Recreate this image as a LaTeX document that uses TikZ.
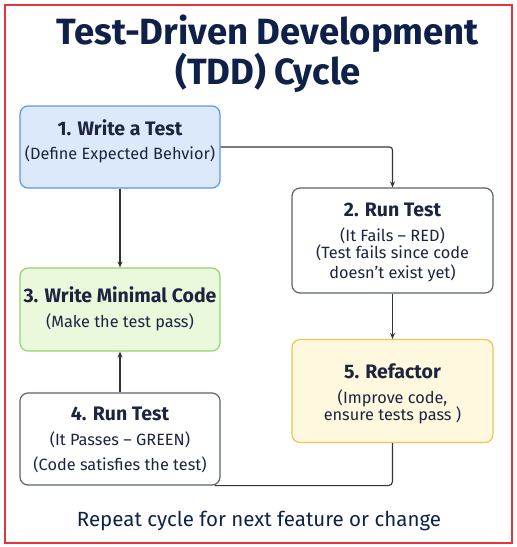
\documentclass[tikz,border=0pt]{standalone}
\usepackage{fontspec}
\setmainfont{Fira Sans}
\usetikzlibrary{arrows.meta}
\definecolor{navy}{HTML}{0F2149}
\definecolor{txt}{HTML}{1C2440}
\definecolor{redb}{HTML}{E8333C}
\definecolor{bluefill}{HTML}{DCE9FB}
\definecolor{blueline}{HTML}{5B97E8}
\definecolor{greenfill}{HTML}{EAF8DC}
\definecolor{greenline}{HTML}{93D36D}
\definecolor{yelfill}{HTML}{FDF8DE}
\definecolor{yelline}{HTML}{F2C252}
\definecolor{grayline}{HTML}{5A6275}
\definecolor{conn}{HTML}{333333}
\tikzset{
  stepbox/.style={draw, line width=1.2pt, rounded corners=8pt, minimum width=200pt, inner sep=0pt},
  boxtext/.style={align=center, text=txt, inner sep=0pt, font=\fontsize{16.3}{19.5}\selectfont},
  conline/.style={draw=conn, line width=1.1pt},
  arr/.style={conline, -{Stealth[length=6pt,width=5pt]}},
}
\newcommand{\bt}[1]{{\fontsize{19.5}{19.5}\selectfont\bfseries #1}}
\begin{document}
\begin{tikzpicture}[x=1pt,y=-1pt]
\useasboundingbox (0,0) rectangle (517,547);
\draw[redb, line width=1.5pt] (5,5) rectangle (512,543);
\node[text=navy, align=center, font=\fontsize{36.5}{39}\selectfont\bfseries] (title) at (268,54) {Test-Driven Development\\(TDD) Cycle};

\node[stepbox, fill=bluefill, draw=blueline, minimum height=82pt] (b1) at (120,147) {};
\node[stepbox, fill=white, draw=grayline, minimum height=105pt, minimum width=201pt] (b2) at (392.5,240.5) {};
\node[stepbox, fill=greenfill, draw=greenline, minimum height=83pt] (b3) at (120,309.5) {};
\node[stepbox, fill=white, draw=grayline, minimum height=92pt] (b4) at (120,439) {};
\node[stepbox, fill=yelfill, draw=yelline, minimum height=103pt, minimum width=201pt] (b5) at (392.5,391) {};

\node[boxtext] (t1) at (120,141) {\bt{1. Write a Test}\\[4.5pt](Define Expected Behvior)};
\node[boxtext] (t2) at (392.5,242.5) {\bt{2. Run Test}\\[5.5pt](It Fails – RED)\\[-3pt](Test fails since code\\[0.5pt]doesn’t exist yet)};
\node[boxtext] (t3) at (120,308.5) {\bt{3. Write Minimal Code}\\[5.5pt](Make the test pass)};
\node[boxtext] (t4) at (120,439.5) {\bt{4. Run Test}\\[5.5pt](It Passes – GREEN)\\[5.5pt](Code satisfies the test)};
\node[boxtext] (t5) at (392.5,394) {\bt{5. Refactor}\\[5.5pt](Improve code,\\[-2pt]ensure tests pass )};

\node[text=navy, font=\fontsize{20.5}{22}\selectfont] (foot) at (259,521) {Repeat cycle for next feature or change};

\draw[arr] (b1.south) -- (b3.north);
\draw[arr, rounded corners=3pt] (b1.east |- 0,147) -| (b2.north);
\draw[arr] (b2.south) -- (b5.north);
\draw[arr] (b4.north) -- (b3.south);
\draw[conline, rounded corners=4pt] (b5.south) |- ([xshift=-6pt]b4.south east);
\end{tikzpicture}
\end{document}
